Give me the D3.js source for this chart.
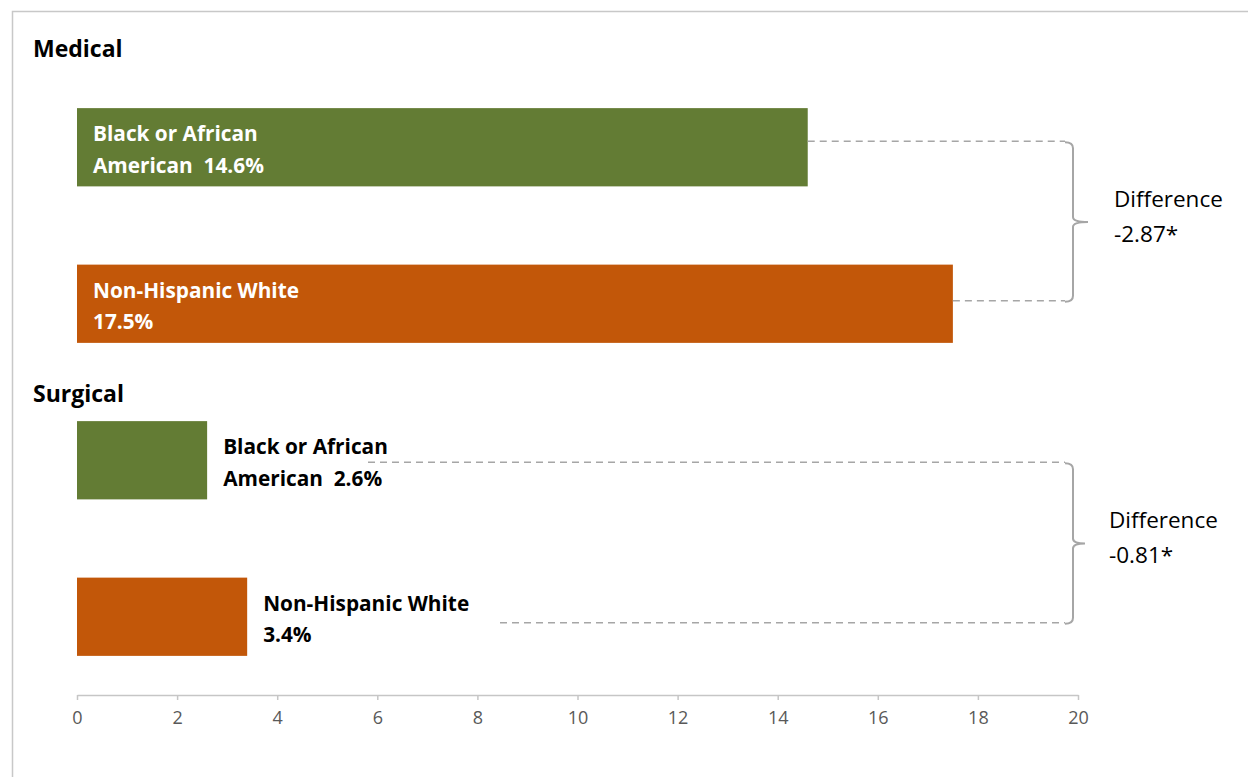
<!DOCTYPE html>
<html>
<head>
<meta charset="utf-8">
<script src="https://cdn.jsdelivr.net/npm/d3@7"></script>
<style>
  html, body { margin: 0; padding: 0; background: #fff; }
  svg { display: block; }
  text { font-family: "Open Sans", Lato, sans-serif; white-space: pre; }
</style>
</head>
<body>
<svg id="chart" width="1248" height="777"></svg>
<script>
// ---- data ----
const categories = ["Medical-Black", "Medical-White", "Surgical-Black", "Surgical-White"];
const groups = ["Medical", "Medical", "Surgical", "Surgical"];
const values = [14.6, 17.5, 2.6, 3.4];
const labelLine1 = ["Black or African", "Non-Hispanic White", "Black or African", "Non-Hispanic White"];
const labelLine2 = ["American  14.6%", "17.5%", "American  2.6%", "3.4%"];
const groupNames = ["Medical", "Surgical"];
const differences = ["-2.87*", "-0.81*"];
const xTicks = [0, 2, 4, 6, 8, 10, 12, 14, 16, 18, 20];
const colors = ["#637c34", "#c25709", "#637c34", "#c25709"];

const svg = d3.select("#chart");

// frame
svg.append("rect").attr("x", 12.5).attr("y", 11.5).attr("width", 1260).attr("height", 800)
  .attr("fill", "none").attr("stroke", "#c8c8c8").attr("stroke-width", 1.5);

const x = d3.scaleLinear().domain([0, 20]).range([77, 1078]);
const y = d3.scaleBand().domain(categories).range([69, 695]).paddingInner(0.5).paddingOuter(0.25);
const bw = y.bandwidth();

// axis
const axis = d3.axisBottom(x).tickValues(xTicks).tickSize(5).tickPadding(11).tickSizeOuter(0);
const gAxis = svg.append("g").attr("transform", "translate(0,695)").call(axis);
gAxis.select(".domain").attr("stroke", "#c6c6c6").attr("stroke-width", 1.5);
gAxis.selectAll(".tick line").attr("stroke", "#c6c6c6").attr("stroke-width", 1.5);
gAxis.selectAll(".tick text").attr("fill", "#595959").style("font-size", "18px").style("font-family", "'Open Sans', sans-serif");

// bars
svg.selectAll("rect.bar").data(categories).join("rect")
  .attr("class", "bar")
  .attr("x", x(0))
  .attr("y", d => y(d))
  .attr("width", (d, i) => x(values[i]) - x(0))
  .attr("height", bw)
  .attr("fill", (d, i) => colors[i]);

// group headings
groupNames.forEach((g, gi) => {
  const firstCat = categories[groups.indexOf(g)];
  svg.append("text").attr("x", 33).attr("y", y(firstCat) - (gi === 0 ? 51 : 19))
    .attr("font-size", 23).attr("font-weight", 700).attr("fill", "#000").text(g);
});

// bar labels
const inside = [true, true, false, false];
categories.forEach((c, i) => {
  const t = svg.append("text")
    .attr("font-size", 20.8).attr("font-weight", 700)
    .attr("fill", inside[i] ? "#fff" : "#000");
  const lx = inside[i] ? x(0) + 16 : x(values[i]) + 16;
  const top = y(c) + 33;
  t.append("tspan").attr("x", lx).attr("y", top).text(labelLine1[i]);
  t.append("tspan").attr("x", lx).attr("y", top + 31.5).text(labelLine2[i]);
});

// dashed connectors + braces
const braceX = 1073;
const dashStarts = [x(values[0]), x(values[1]), 368, 500];
const dashOffsets = [33, 36, 41, 45];
groupNames.forEach((g, gi) => {
  const a = gi * 2, b = gi * 2 + 1;
  const ya = y(categories[a]) + dashOffsets[a];
  const yb = y(categories[b]) + dashOffsets[b];
  [[a, ya], [b, yb]].forEach(([i, yy]) => {
    svg.append("line").attr("x1", dashStarts[i]).attr("x2", braceX - 8)
      .attr("y1", yy).attr("y2", yy)
      .attr("stroke", "#a6a6a6").attr("stroke-width", 1.5).attr("stroke-dasharray", "7,5");
  });
  const top = ya + 1, bot = yb + 1, mid = (top + bot) / 2;
  const tip = gi === 0 ? 15 : 12;
  const p = d3.path();
  p.moveTo(braceX - 8, top);
  p.quadraticCurveTo(braceX, top, braceX, top + 6);
  p.lineTo(braceX, mid - 5);
  p.quadraticCurveTo(braceX, mid, braceX + tip, mid);
  p.quadraticCurveTo(braceX, mid, braceX, mid + 5);
  p.lineTo(braceX, bot - 6);
  p.quadraticCurveTo(braceX, bot, braceX - 8, bot);
  svg.append("path").attr("d", p.toString()).attr("fill", "none")
    .attr("stroke", "#a6a6a6").attr("stroke-width", 2);

  const tx = gi === 0 ? 1114 : 1109;
  const t = svg.append("text").attr("font-size", 22.5).attr("fill", "#000");
  t.append("tspan").attr("x", tx).attr("y", mid - 15).text("Difference");
  t.append("tspan").attr("x", tx).attr("y", mid + 20).text(differences[gi]);
});
</script>
</body>
</html>
